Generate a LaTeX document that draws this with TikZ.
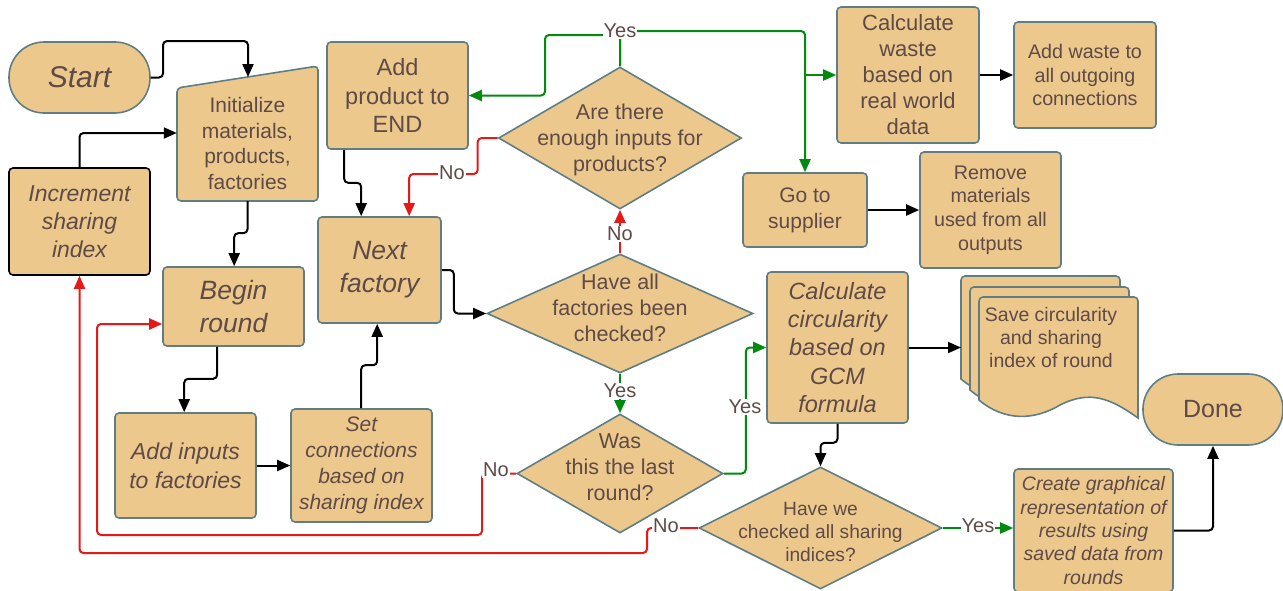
\documentclass[tikz,border=0pt]{standalone}
\usepackage{fontspec}
\setmainfont{Liberation Sans}
\usetikzlibrary{shapes.geometric,arrows.meta,calc}
\definecolor{fillc}{RGB}{236,200,141}
\definecolor{bordc}{RGB}{95,126,132}
\definecolor{txtc}{RGB}{94,74,70}
\definecolor{greenc}{RGB}{0,138,14}
\definecolor{redc}{RGB}{230,25,25}
\newcommand\fsz[2]{\fontsize{#1}{#2}\selectfont}
\begin{document}
\begin{tikzpicture}[x=1pt,y=-1pt,
 box/.style={draw=bordc, fill=fillc, line width=1.6pt, rounded corners=4pt, text=txtc, align=center, inner sep=0pt},
 shp/.style={draw=bordc, fill=fillc, line width=1.6pt},
 dia/.style={diamond, draw=bordc, fill=fillc, line width=1.6pt, inner sep=0pt},
 dtext/.style={text=txtc, align=center, inner sep=0pt},
 lab/.style={fill=white, text=txtc, inner sep=1pt, font=\fsz{20}{24}},
 conn/.style={line width=2pt, rounded corners=4pt, -{Triangle[length=13pt,width=11pt]}},
 arr/.style={conn, draw=black},
 yes/.style={conn, draw=greenc},
 no/.style={conn, draw=redc},
]
\useasboundingbox (0,0) rectangle (1283,590);

% ---------- nodes ----------
\node[box, rounded corners=35pt, minimum width=141pt, minimum height=71pt, font=\fsz{30}{36}\itshape] (start) at (79.5,77.5) {Start};

\draw[shp, rounded corners=4pt] (177,88) -- (318,66) -- (318,201) -- (177,201) -- cycle;
\node[dtext, minimum width=141pt, minimum height=115pt, font=\fsz{21}{25.5}] (init) at (247.5,143.5) {Initialize\\materials,\\products,\\factories};
\coordinate (inittop) at (248,77);

\node[box, draw=black, minimum width=141pt, minimum height=107pt, font=\fsz{23}{28}\itshape] (inc) at (79.5,221.5) {Increment\\sharing\\index};

\node[box, minimum width=141pt, minimum height=107pt, font=\fsz{23.5}{28.3}] (addend) at (397.5,95.5) {Add\\product to\\END};

\node[dia, minimum width=243pt, minimum height=142pt] (dia1) at (620,138) {};
\node[dtext, font=\fsz{21.4}{25.7}] (dia1t) at (620,140) {Are there\\enough inputs for\\products?};

\node[box, minimum width=142pt, minimum height=136pt, font=\fsz{22}{26}] (calcw) at (908,75) {Calculate\\waste\\based on\\real world\\data};
\node[box, minimum width=142pt, minimum height=106pt, font=\fsz{19.7}{23.7}] (addw) at (1085,75) {Add waste to\\all outgoing\\connections};

\node[box, minimum width=124pt, minimum height=74pt, font=\fsz{21}{26}] (gotosup) at (805,210) {Go to\\supplier};
\node[box, minimum width=141pt, minimum height=116pt, font=\fsz{19.7}{23.7}] (remove) at (990.5,210) {Remove\\materials\\used from all\\outputs};

\node[box, minimum width=123pt, minimum height=106pt, font=\fsz{26.5}{33}\itshape] (nextf) at (379.5,270) {Next\\factory};
\node[box, minimum width=141pt, minimum height=79pt, font=\fsz{26.5}{33}\itshape] (begin) at (233.5,306.5) {Begin\\round};
\node[box, minimum width=141pt, minimum height=105pt, font=\fsz{23}{29}\itshape] (addin) at (185.5,465.5) {Add inputs\\to factories};
\node[box, minimum width=141pt, minimum height=113pt, font=\fsz{21}{26}\itshape] (setc) at (361.5,465.5) {Set\\connections\\based on\\sharing index};

\node[dia, minimum width=266pt, minimum height=119pt] (dia2) at (620,313.5) {};
\node[dtext, font=\fsz{21.5}{25.8}] (dia2t) at (620,308) {Have all\\factories been\\checked?};

\node[dia, minimum width=206pt, minimum height=119pt] (dia3) at (620,473.5) {};
\node[dtext, font=\fsz{21.5}{25.8}] (dia3t) at (620,467) {Was\\this the last\\round?};

\node[box, minimum width=141pt, minimum height=151pt, font=\fsz{23.5}{28.3}\itshape] (calcc) at (837.5,347.5) {Calculate\\circularity\\based on\\GCM\\formula};

\node[dia, minimum width=243pt, minimum height=122pt] (dia4) at (820.5,528) {};
\node[dtext, font=\fsz{19.2}{23}] (dia4t) at (820.5,532) {Have we\\checked all sharing\\indices?};

\node[box, minimum width=159pt, minimum height=123pt, font=\fsz{19.5}{23.3}\itshape] (create) at (1093.5,530.5) {Create graphical\\representation of\\results using\\saved data from\\rounds};

\node[box, rounded corners=35pt, minimum width=140pt, minimum height=71pt, font=\fsz{25}{30}] (done) at (1213,409.5) {Done};

% multi-document
\foreach \dx/\dy in {-18/-21,-9/-10,0/0}{
  \begin{scope}[shift={(\dx,\dy)}]
    \draw[shp] (979,400) [rounded corners=4pt] -- (979,297) -- (1138,297) [sharp corners] -- (1138,418)
      .. controls (1110,398) and (1090,390) .. (1060,405)
      .. controls (1035,420) and (1005,422) .. (979,400) -- cycle;
  \end{scope}
}
\node[dtext, font=\fsz{19.5}{23}] (docs) at (1051,338) {Save circularity\\and sharing\\index of round};
\coordinate (docin) at (961,347.5);

% ---------- connectors ----------
\draw[arr] (start.east) -- (163,77.5) -- (163,41) -- (248,41) -- (inittop);
\draw[arr] (inc.north) |- (init.west |- 0,133);
\draw[arr] ([xshift=18pt]addend.south west) -- ++(0,33) -| ([xshift=44pt]nextf.north west);
\draw[no] (dia1.west) -- ++(-20,0) -- ++(0,36) -| ([xshift=92pt]nextf.north west);
\draw[yes] (dia1.north) |- (545,35) |- (addend.east);
\draw[yes] (dia1.north) |- (805,31) -- (gotosup.north);
\draw[yes] (gotosup.north |- calcw.west) -- (calcw.west);
\draw[arr] (calcw.east) -- (addw.west);
\draw[arr] (gotosup.east) -- (remove.west);
\draw[arr] (init.south) -- ++(0,32) -| ([xshift=72pt]begin.north west);
\draw[arr] ([xshift=55pt]begin.south west) -- ++(0,32) -| ([xshift=70pt]addin.north west);
\draw[arr] (addin.east) -- (setc.west);
\draw[arr] ([xshift=71pt]setc.north west) -- ++(0,-43) -| ([xshift=60pt]nextf.south west);
\draw[arr] (nextf.east) -- ++(12,0) |- (dia2.west);
\draw[no] (dia2.north) -- (dia1.south);
\draw[yes] (dia2.south) -- (dia3.north);
\draw[yes] (dia3.east) -- ++(22,0) |- (calcc.west);
\draw[no] (dia3.west) -- (482,473.5) -- (482,535) -- (97,535) -- (97,324) -- ($(begin.west)+(0,17.5)$);
\draw[arr] (calcc.east) -- (docin);
\draw[arr] (calcc.south) -- ++(0,19) -| (dia4.north);
\draw[no] (dia4.west) -- (647,528) -- (647,553) -- (79.5,553) -- (inc.south);
\draw[yes] (dia4.east) -- (create.west |- dia4.east);
\draw[arr] (create.east) -| (done.south);

% ---------- labels ----------
\node[lab] (lyes1) at (620,31) {Yes};
\node[lab] (lno1) at (452,173) {No};
\node[lab] (lno2) at (620,234) {No};
\node[lab] (lyes2) at (620,391) {Yes};
\node[lab] (lyes3) at (745,407) {Yes};
\node[lab] (lno3) at (496,470) {No};
\node[lab] (lno4) at (666,526) {No};
\node[lab] (lyes4) at (978,526) {Yes};
\end{tikzpicture}
\end{document}
